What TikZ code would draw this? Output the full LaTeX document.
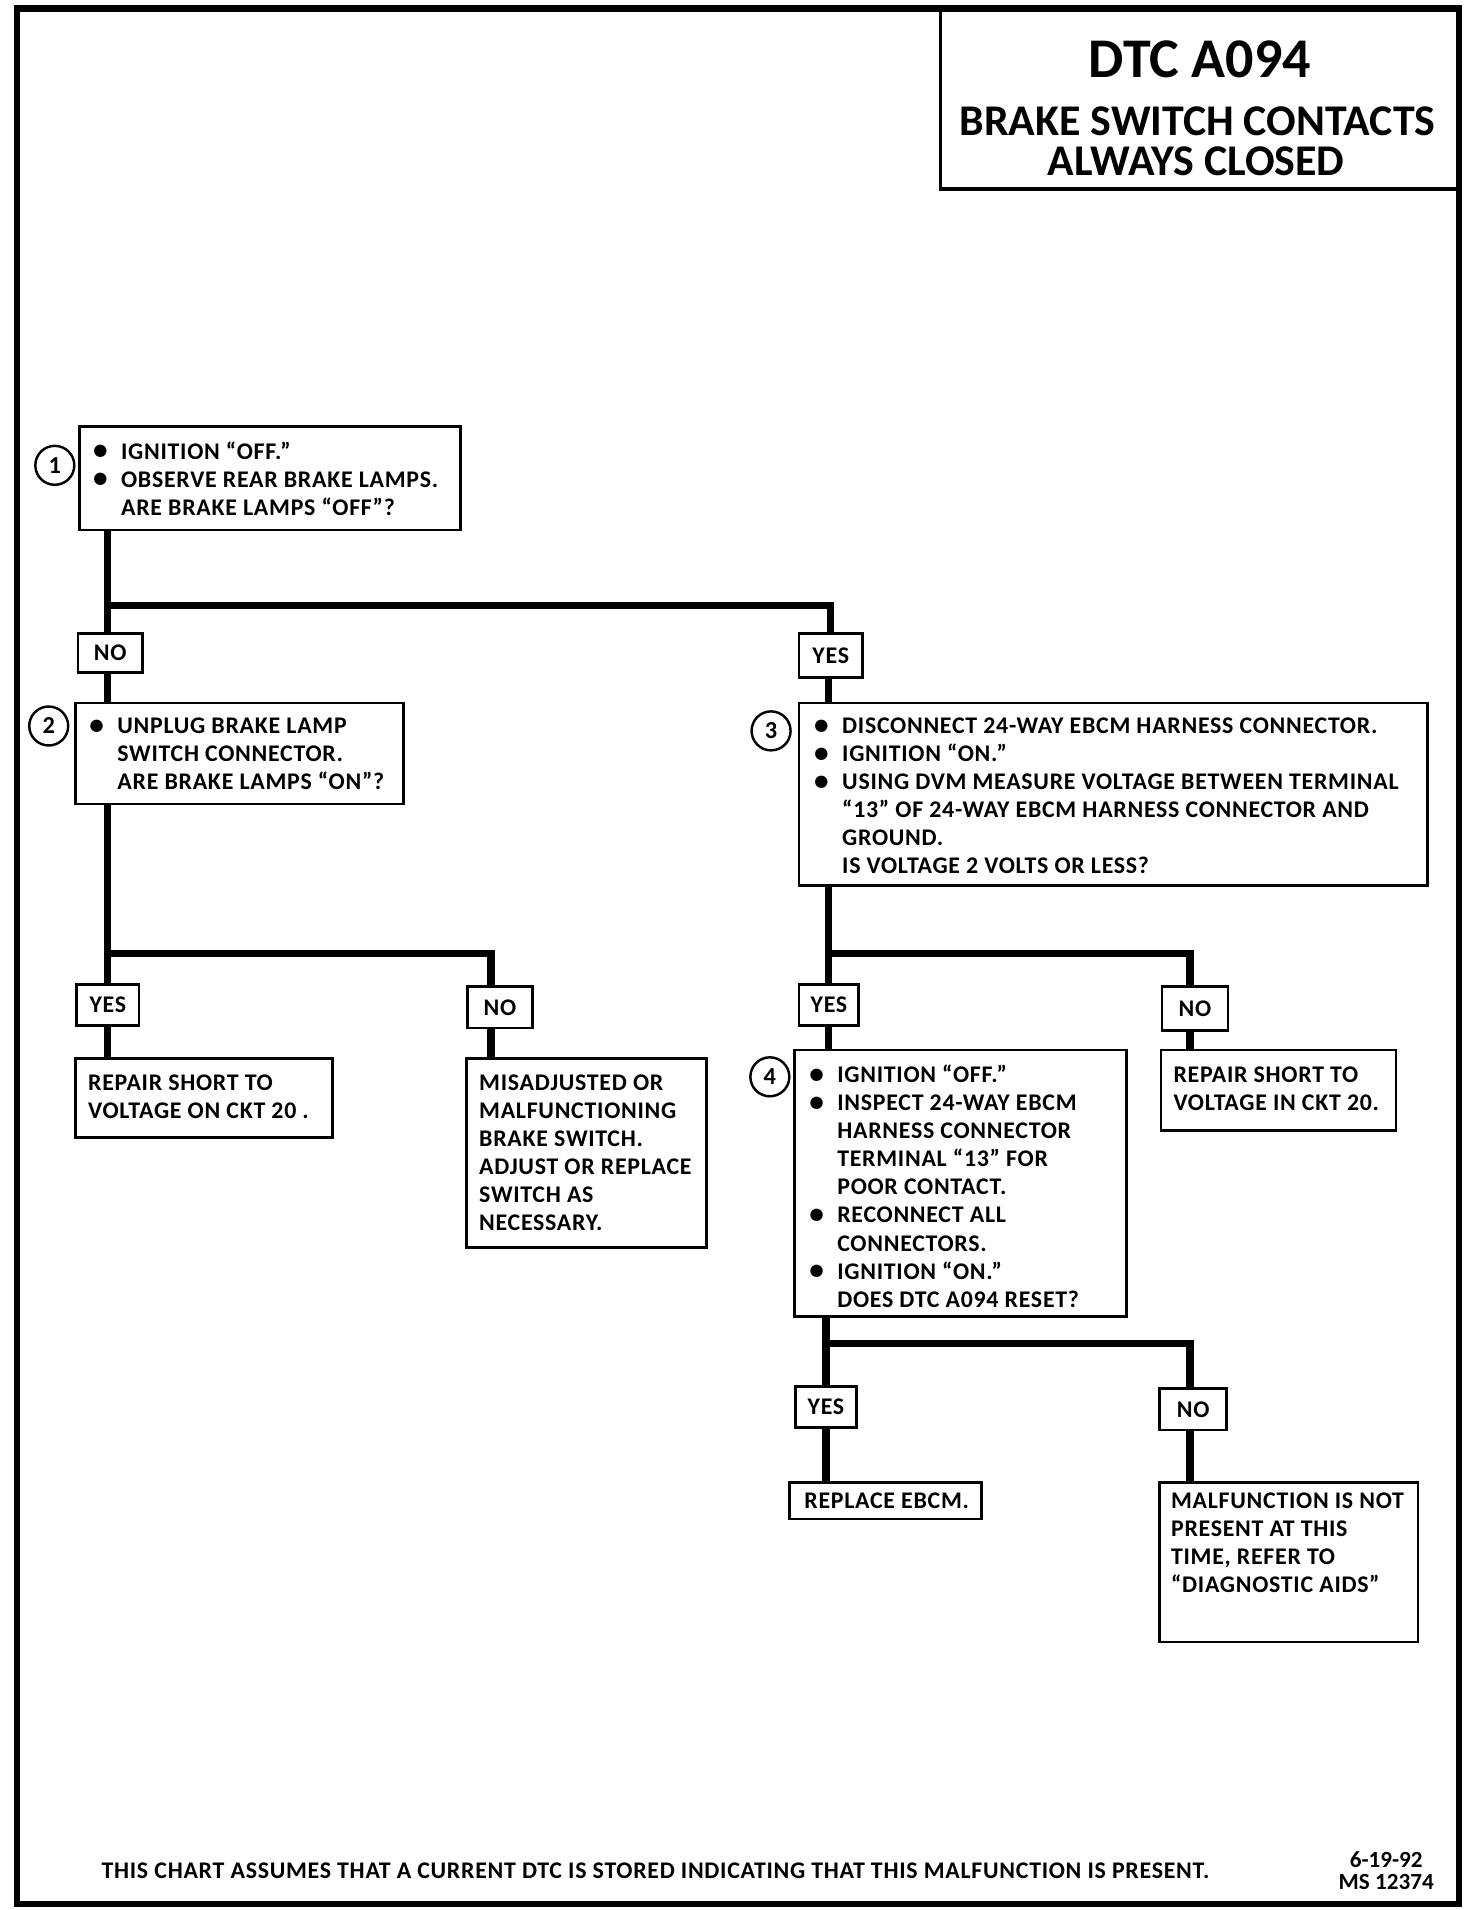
\documentclass[tikz,border=0pt]{standalone}
\usepackage{fontspec}
\setmainfont{Carlito}
\newfontfamily\wide{Carlito}[LetterSpace=3]
\usetikzlibrary{fit}
\newcommand\bul{\makebox[11.5pt][l]{\raisebox{-0.3pt}{\large\textbullet}}}
\newcommand\ind{\hspace*{11.5pt}}
\begin{document}
\begin{tikzpicture}[x=0.5pt,y=-0.5pt,
  box/.style={draw, line width=1.1pt, inner sep=0pt},
  lbl/.style={draw, line width=1.1pt, inner sep=0pt},
  lbltext/.style={font=\wide\fontsize{9.8}{11}\selectfont\bfseries},
  txt/.style={inner sep=0pt, anchor=base west, font=\wide\fontsize{9.8}{11.5}\selectfont\bfseries},
  circ/.style={draw, circle, line width=1pt, minimum size=16pt, inner sep=0pt, font=\fontsize{10}{12}\selectfont\bfseries},
  ttl/.style={anchor=base, inner sep=0pt, text height=12pt, text depth=0pt, font=\fontsize{18}{20}\selectfont\bfseries},
  conn/.style={line width=3pt, line join=miter}]
\useasboundingbox (0,0) rectangle (1208,1568);
% frame and title
\node[draw, line width=2.5pt, inner sep=0pt, fit={(14,7) (1198,1563)}] (frame) {};
\node[draw, line width=1.4pt, inner sep=0pt, fit={(772,7) (1198,155)}] (title) {};
\node[anchor=base, inner sep=0pt, font=\fontsize{23}{26}\selectfont\bfseries] (tt1) at (985,64) {DTC A094};
\node[ttl] (tt2) at (983,111) {BRAKE SWITCH CONTACTS};
\node[ttl] (tt3) at (982,144) {ALWAYS CLOSED};

% coordinates of connector columns
\coordinate (xa) at (88,0);
\coordinate (xb) at (403,0);
\coordinate (xc) at (680,0);
\coordinate (xd) at (977,0);

% boxes
\node[box, fit={(65,350) (378,435)}] (b1) {};
\node[box, fit={(62,577) (331,660)}] (b2) {};
\node[box, fit={(656,577) (1172,727)}] (b3) {};
\node[box, fit={(652,862) (925,1081)}] (b4) {};
\node[box, fit={(62,869) (273,934)}] (b5) {};
\node[box, fit={(383,869) (580,1024)}] (b6) {};
\node[box, fit={(953,862) (1146,928)}] (b7) {};
\node[box, fit={(648,1217) (806,1247)}] (b8) {};
\node[box, fit={(952,1217) (1164,1348)}] (b9) {};

% labels
\node[lbl, fit={(64,520) (117,552)}, label={[lbltext]center:NO}] (n1) {};
\node[lbl, fit={(656,520) (708,556)}, label={[lbltext]center:YES}] (y1) {};
\node[lbl, fit={(63,808) (114,842)}, label={[lbltext]center:YES}] (y2) {};
\node[lbl, fit={(384,810) (437,844)}, label={[lbltext]center:NO}] (n2) {};
\node[lbl, fit={(656,808) (705,842)}, label={[lbltext]center:YES}] (y3) {};
\node[lbl, fit={(954,810) (1008,846)}, label={[lbltext]center:NO}] (n3) {};
\node[lbl, fit={(653,1138) (703,1172)}, label={[lbltext]center:YES}] (y4) {};
\node[lbl, fit={(952,1140) (1007,1174)}, label={[lbltext]center:NO}] (n4) {};

% circles
\node[circ] (c1) at (45,382) {1};
\node[circ] (c2) at (40,596) {2};
\node[circ] (c3) at (633,600) {3};
\node[circ] (c4) at (632,884) {4};

% texts
\node[txt] (t1) at (76,377) {\parbox[t]{300pt}{\bul IGNITION “OFF.”\\ \bul OBSERVE REAR BRAKE LAMPS.\\ \ind ARE BRAKE LAMPS “OFF”?}};
\node[txt] (t2) at (73,602) {\parbox[t]{300pt}{\bul UNPLUG BRAKE LAMP\\ \ind SWITCH CONNECTOR.\\ \ind ARE BRAKE LAMPS “ON”?}};
\node[txt] (t3) at (668,602) {\parbox[t]{300pt}{\bul DISCONNECT 24-WAY EBCM HARNESS CONNECTOR.\\ \bul IGNITION “ON.”\\ \bul USING DVM MEASURE VOLTAGE BETWEEN TERMINAL\\ \ind “13” OF 24-WAY EBCM HARNESS CONNECTOR AND\\ \ind GROUND.\\ \ind IS VOLTAGE 2 VOLTS OR LESS?}};
\node[txt] (t4) at (664,889) {\parbox[t]{300pt}{\bul IGNITION “OFF.”\\ \bul INSPECT 24-WAY EBCM\\ \ind HARNESS CONNECTOR\\ \ind TERMINAL “13” FOR\\ \ind POOR CONTACT.\\ \bul RECONNECT ALL\\ \ind CONNECTORS.\\ \bul IGNITION “ON.”\\ \ind DOES DTC A094 RESET?}};
\node[txt] (t5) at (72,895) {\parbox[t]{300pt}{REPAIR SHORT TO\\ VOLTAGE ON CKT 20 .}};
\node[txt] (t6) at (393,895) {\parbox[t]{300pt}{MISADJUSTED OR\\ MALFUNCTIONING\\ BRAKE SWITCH.\\ ADJUST OR REPLACE\\ SWITCH AS\\ NECESSARY.}};
\node[txt] (t7) at (963,889) {\parbox[t]{300pt}{REPAIR SHORT TO\\ VOLTAGE IN CKT 20.}};
\node[txt] (t8) at (660,1238) {REPLACE EBCM.};
\node[txt] (t9) at (961,1238) {\parbox[t]{300pt}{MALFUNCTION IS NOT\\ PRESENT AT THIS\\ TIME, REFER TO\\ “DIAGNOSTIC AIDS”}};

% footer
\node[txt, font=\wide\fontsize{9.8}{11}\selectfont\bfseries] (f1) at (83,1542) {THIS CHART ASSUMES THAT A CURRENT DTC IS STORED INDICATING THAT THIS MALFUNCTION IS PRESENT.};
\node[anchor=base, inner sep=0pt, font=\fontsize{9.5}{11}\selectfont\bfseries] (f2) at (1138,1533) {6-19-92};
\node[anchor=base, inner sep=0pt, font=\fontsize{9.5}{11}\selectfont\bfseries] (f3) at (1138,1551) {MS 12374};

% junctions
\coordinate (j1) at (88,497);
\coordinate (j2) at (88,783);
\coordinate (j3) at (680,783);
\coordinate (j4) at (678,1103);

% connectors
\draw[conn] (b1.south -| xa) -- (n1.north -| xa);
\draw[conn] (j1) -| (y1.north);
\draw[conn] (n1.south -| xa) -- (b2.north -| xa);
\draw[conn] (y1.south -| xc) -- (b3.north -| xc);
\draw[conn] (b2.south -| xa) -- (y2.north -| xa);
\draw[conn] (j2) -| (n2.north -| xb);
\draw[conn] (y2.south -| xa) -- (b5.north -| xa);
\draw[conn] (n2.south -| xb) -- (b6.north -| xb);
\draw[conn] (b3.south -| xc) -- (y3.north -| xc);
\draw[conn] (j3) -| (n3.north -| xd);
\draw[conn] (y3.south -| xc) -- (b4.north -| xc);
\draw[conn] (n3.south -| xd) -- (b7.north -| xd);
\draw[conn] (b4.south -| j4) -- (y4.north -| j4);
\draw[conn] (j4) -| (n4.north -| xd);
\draw[conn] (y4.south -| j4) -- (b8.north -| j4);
\draw[conn] (n4.south -| xd) -- (b9.north -| xd);
\end{tikzpicture}
\end{document}
